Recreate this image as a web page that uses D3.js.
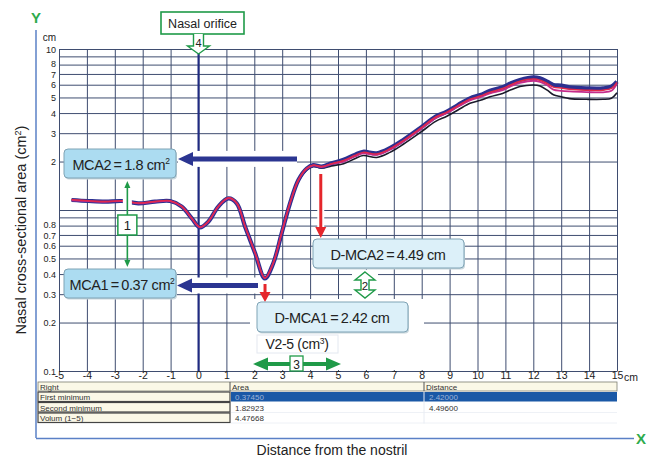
<!DOCTYPE html>
<html><head><meta charset="utf-8">
<script src="https://cdn.jsdelivr.net/npm/d3@7"></script>
<style>
html,body{margin:0;padding:0;background:#fff;}
svg{display:block;font-family:"Liberation Sans",Arial,sans-serif;}
</style></head>
<body><svg id="c" width="651" height="459"></svg>
<script>
// ---- data ----
const distance = [-4.55,-3.95,-3.35,-2.75,-2.16,-1.56,-1.02,-0.6,-0.24,0.05,0.35,0.71,1.07,1.37,1.67,2.03,2.38,2.68,2.98,3.28,3.58,3.88,4.11,4.41,4.77,5.2,5.6,5.9,6.39,6.86,7.34,7.94,8.5,8.9,9.3,9.73,10.1,10.45,10.9,11.2,11.52,12.0,12.24,12.5,12.72,13.0,13.3,13.9,14.5,14.8,15.0];
const areaNavy = [1.154,1.137,1.126,1.137,1.10,1.126,1.137,1.05,0.888,0.78,0.846,1.05,1.18,1.10,0.788,0.538,0.376,0.467,0.716,1.10,1.535,1.81,1.90,1.86,1.95,2.05,2.2,2.3,2.25,2.42,2.72,3.22,3.8,4.08,4.49,4.94,5.18,5.5,5.78,6.13,6.41,6.66,6.57,6.27,5.98,5.92,5.78,5.7,5.7,5.84,6.27];
const areaRed = [1.16,1.14,1.128,1.14,1.105,1.128,1.14,1.052,0.89,0.785,0.85,1.055,1.19,1.105,0.79,0.54,0.378,0.47,0.72,1.105,1.54,1.82,1.90,1.86,1.94,2.03,2.18,2.28,2.23,2.4,2.7,3.2,3.78,4.05,4.45,4.88,5.1,5.4,5.68,6.0,6.3,6.5,6.4,6.1,5.8,5.72,5.62,5.55,5.55,5.7,6.2];
const areaMagenta = [1.15,1.135,1.125,1.135,1.10,1.125,1.135,1.05,0.885,0.78,0.845,1.05,1.18,1.10,0.79,0.54,0.377,0.468,0.72,1.10,1.53,1.80,1.89,1.85,1.93,2.0,2.15,2.25,2.2,2.37,2.66,3.15,3.72,4.0,4.38,4.8,5.02,5.3,5.55,5.88,6.15,6.35,6.25,5.95,5.6,5.5,5.45,5.4,5.38,5.5,6.1];
const areaBlack = [1.15,1.135,1.12,1.13,1.095,1.12,1.13,1.045,0.88,0.775,0.84,1.045,1.17,1.09,0.78,0.535,0.375,0.465,0.71,1.09,1.51,1.77,1.86,1.82,1.88,1.94,2.08,2.18,2.12,2.28,2.56,3.02,3.55,3.82,4.18,4.6,4.8,5.05,5.3,5.58,5.85,5.98,5.9,5.55,5.2,5.05,4.92,4.87,4.87,4.95,5.35];
const xTicks = [-5,-4,-3,-2,-1,0,1,2,3,4,5,6,7,8,9,10,11,12,13,14,15];
const yGrid = [0.1,0.2,0.3,0.4,0.5,0.6,0.7,0.8,0.9,1,2,3,4,5,6,7,8,9,10];
const yLabels = [0.1,0.2,0.3,0.4,0.5,0.6,0.7,0.8,2,3,4,5,6,7,8,10];
const tableHeader = ["Right","Area","Distance"];
const tableRows = [["First minimum","0.37450","2.42000"],["Second minimum","1.82923","4.49600"],["Volum (1\u22125)","4.47668",""]];
const mca1 = 0.37, mca2 = 1.8, dmca1 = 2.42, dmca2 = 4.49;

// ---- setup ----
const svg = d3.select("#c");
const x = d3.scaleLinear().domain([-5,15]).range([59,617]);
const y = d3.scaleLog().domain([0.1,10]).range([371,49]);
const green = "#1f9a48", navy = "#2b3591", red = "#e5262b", gridC = "#3f4d70";
const narrow = "Liberation Sans Narrow, Liberation Sans, Arial";

// frame lines
svg.append("line").attr("x1",36).attr("x2",36).attr("y1",30).attr("y2",438).attr("stroke","#5a80c6").attr("stroke-width",1.5);
svg.append("line").attr("x1",36).attr("x2",634).attr("y1",438.5).attr("y2",438.5).attr("stroke","#5a80c6").attr("stroke-width",1.5);
svg.append("text").attr("x",36).attr("y",23).attr("text-anchor","middle").attr("font-weight","bold").attr("font-size",15).attr("fill","#2eab4c").text("Y");
svg.append("text").attr("x",641).attr("y",444).attr("text-anchor","middle").attr("font-weight","bold").attr("font-size",15).attr("fill","#2eab4c").text("X");

// grid + axes
const nudge = {8:-1.3, 7:0.6, 0.8:-1.1, 0.7:0.3};
const gy = svg.append("g").attr("transform","translate(59,0)")
  .call(d3.axisLeft(y).tickValues(yGrid).tickSizeInner(-558).tickSizeOuter(0).tickPadding(3)
    .tickFormat(d => yLabels.includes(d) ? String(d) : ""));
gy.select(".domain").remove();
gy.selectAll(".tick line").attr("stroke",gridC).attr("stroke-width",1);
gy.selectAll(".tick text").attr("font-size",9).attr("fill","#222").attr("font-family",narrow)
  .attr("dy", d => (3.0 + (nudge[d]||0)) + "px");
svg.append("text").attr("x",56).attr("y",41).attr("text-anchor","end").attr("font-size",10).attr("fill","#222").attr("font-family",narrow).text("cm");

const gx = svg.append("g").attr("transform","translate(0,371)")
  .call(d3.axisBottom(x).tickValues(xTicks).tickSizeInner(-322).tickSizeOuter(0).tickPadding(1)
    .tickFormat(d => String(d)));
gx.select(".domain").attr("stroke",gridC);
gx.selectAll(".tick line").attr("stroke",gridC).attr("stroke-width",1);
gx.selectAll(".tick text").attr("font-size",10.5).attr("fill","#222").attr("font-family",narrow);
svg.append("text").attr("x",624).attr("y",380.5).attr("font-size",10.5).attr("fill","#222").attr("font-family",narrow).text("cm");

// nasal orifice line
svg.append("line").attr("x1",x(0)).attr("x2",x(0)).attr("y1",53).attr("y2",371).attr("stroke","#1f2a82").attr("stroke-width",2);

// white areas
svg.append("rect").attr("x",250).attr("y",299).attr("width",174).attr("height",71).attr("fill","#fff");
svg.append("rect").attr("x",352).attr("y",270).attr("width",26).attr("height",30).attr("fill","#fff");

// curves
const line = (vals) => d3.line().x((d,i)=>x(distance[i])).y(d=>y(d)).curve(d3.curveCatmullRom)(vals);
const curves = [[areaBlack,"#1a1a2a",1.6],[areaNavy,"#2c3090",4.2],[areaMagenta,"#c42c8c",1.8],[areaRed,"#e0284a",1.5]];
curves.forEach(([v,c,w]) => svg.append("path").attr("d",line(v)).attr("fill","none").attr("stroke",c).attr("stroke-width",w).attr("stroke-linejoin","round"));
// gap at green arrow 1
svg.append("rect").attr("x",x(-2.55)-4.5).attr("y",193).attr("width",9).attr("height",16).attr("fill","#fff");

// helpers
function hArrowLeft(x1, x2, yy, color, w, hl, hw){
  svg.append("rect").attr("x",x2).attr("y",yy-8).attr("width",x1-x2).attr("height",16).attr("fill","#fff");
  svg.append("line").attr("x1",x1).attr("x2",x2+hl-1).attr("y1",yy).attr("y2",yy).attr("stroke",color).attr("stroke-width",w);
  svg.append("path").attr("d",`M${x2},${yy} L${x2+hl},${yy-hw/2} L${x2+hl},${yy+hw/2} Z`).attr("fill",color);
}
function vArrowDown(xx, y1, y2, color, w, hl, hw){
  svg.append("line").attr("x1",xx).attr("x2",xx).attr("y1",y1).attr("y2",y2-hl+1).attr("stroke","#fff").attr("stroke-width",w+4);
  svg.append("line").attr("x1",xx).attr("x2",xx).attr("y1",y1).attr("y2",y2-hl+1).attr("stroke",color).attr("stroke-width",w);
  svg.append("path").attr("d",`M${xx},${y2} L${xx-hw/2},${y2-hl} L${xx+hw/2},${y2-hl} Z`).attr("fill",color);
}
function box(x0,y0,w,h,fill,stroke){
  svg.append("rect").attr("x",x0+1).attr("y",y0+1.5).attr("width",w).attr("height",h).attr("rx",4).attr("fill","#c8d6dc");
  svg.append("rect").attr("x",x0).attr("y",y0).attr("width",w).attr("height",h).attr("rx",4).attr("fill",fill).attr("stroke",stroke).attr("stroke-width",1);
}
function boxText(cx, by, main, sup){
  const t = svg.append("text").attr("x",cx).attr("y",by).attr("text-anchor","middle").attr("font-size",14.5).attr("fill","#222").attr("letter-spacing",-0.4);
  t.append("tspan").text(main);
  if(sup) t.append("tspan").attr("dy",-6).attr("font-size",8.5).text(sup);
}

// navy arrows to MCA boxes
hArrowLeft(297, 178, y(mca2)-10, navy, 5, 15, 14);
hArrowLeft(258, 177, y(mca1)+6, navy, 5, 15, 14);

// red arrows
vArrowDown(x(dmca1)-1, 284, 302, red, 3, 10, 11);
vArrowDown(x(dmca2)-3, 174, 238, red, 3, 11, 11);

// boxes
box(64,149,112,29,"#acdcf1","#7fa3b5");
boxText(121,169.5,"MCA2\u2009=\u20091.8 cm","2");
box(64,269,112,29,"#acdcf1","#7fa3b5");
boxText(122,289.5,"MCA1\u2009=\u20090.37 cm","2");
box(313,239,151,29,"#dcf0f9","#7fa3b5");
boxText(388,259.5,"D-MCA2\u2009=\u20094.49 cm","");
box(257,302,151,30,"#dcf0f9","#7fa3b5");
boxText(332,322.5,"D-MCA1\u2009=\u20092.42 cm","");

// V2-5 label
svg.append("rect").attr("x",257).attr("y",335).attr("width",81).attr("height",18).attr("fill","#fff").attr("stroke","#e3e8f0");
const vt = svg.append("text").attr("x",297).attr("y",349).attr("text-anchor","middle").attr("font-size",14).attr("fill","#222").attr("letter-spacing",-0.3);
vt.append("tspan").text("V2-5 (cm");
vt.append("tspan").attr("dy",-5).attr("font-size",8.5).text("3");
vt.append("tspan").attr("dy",5).text(")");

// green arrow 1
const gx1 = x(-2.55);
svg.append("line").attr("x1",gx1).attr("x2",gx1).attr("y1",186).attr("y2",262).attr("stroke",green).attr("stroke-width",1.6);
svg.append("path").attr("d",`M${gx1},181 L${gx1-3},188 L${gx1+3},188 Z`).attr("fill",green);
svg.append("path").attr("d",`M${gx1},267 L${gx1-3},260 L${gx1+3},260 Z`).attr("fill",green);
svg.append("rect").attr("x",gx1-9.5).attr("y",215).attr("width",19).attr("height",20).attr("fill","#fff").attr("stroke",green).attr("stroke-width",1.5);
svg.append("text").attr("x",gx1).attr("y",230).attr("text-anchor","middle").attr("font-size",13).attr("fill","#222").text("1");

// green hollow arrow 2
const c2 = 365;
svg.append("path").attr("d",`M${c2},272 L${c2+10},280 L${c2+4},280 L${c2+4},290 L${c2+10},290 L${c2},298 L${c2-10},290 L${c2-4},290 L${c2-4},280 L${c2-10},280 Z`)
  .attr("fill","#fff").attr("stroke",green).attr("stroke-width",1.4);
svg.append("text").attr("x",c2).attr("y",289.5).attr("text-anchor","middle").attr("font-size",11.5).attr("fill","#222").text("2");

// green arrow 3
const y3 = 364;
svg.append("line").attr("x1",265).attr("x2",330).attr("y1",y3).attr("y2",y3).attr("stroke",green).attr("stroke-width",4);
svg.append("path").attr("d",`M253,${y3} L268,${y3-6.5} L268,${y3+6.5} Z`).attr("fill",green);
svg.append("path").attr("d",`M341,${y3} L326,${y3-6.5} L326,${y3+6.5} Z`).attr("fill",green);
svg.append("rect").attr("x",290).attr("y",356).attr("width",13).attr("height",15).attr("fill","#fff").attr("stroke",green).attr("stroke-width",1.3);
svg.append("text").attr("x",296.5).attr("y",368.5).attr("text-anchor","middle").attr("font-size",12).attr("fill","#222").text("3");

// nasal orifice box + arrow 4
svg.append("rect").attr("x",161).attr("y",12).attr("width",83).attr("height",22).attr("fill","#fff").attr("stroke",green).attr("stroke-width",1.6);
svg.append("text").attr("x",202.5).attr("y",28).attr("text-anchor","middle").attr("font-size",12.5).attr("fill","#222").text("Nasal orifice");
const c4 = x(0);
svg.append("path").attr("d",`M${c4-5},34 L${c4-5},46 L${c4-11},46 L${c4},54 L${c4+11},46 L${c4+5},46 L${c4+5},34`)
  .attr("fill","#fff").attr("stroke",green).attr("stroke-width",1.4);
svg.append("text").attr("x",c4).attr("y",47).attr("text-anchor","middle").attr("font-size",11).attr("fill","#222").text("4");

// table
const colX = [38,230,424,617];
const rowY = [382,392,402.5,413,423.5];
const tb = svg.append("g").attr("font-size",8).attr("font-family","Liberation Sans, Arial");
tb.append("rect").attr("x",38).attr("y",rowY[0]).attr("width",579).attr("height",rowY[1]-rowY[0]-1).attr("fill","#fbf8e7").attr("stroke","#7d7d70").attr("stroke-width",0.8);
[230,424].forEach(cx => tb.append("line").attr("x1",cx).attr("x2",cx).attr("y1",rowY[0]).attr("y2",rowY[1]-1).attr("stroke","#555").attr("stroke-width",1));
tableHeader.forEach((h,i)=> tb.append("text").attr("x",colX[i]+2).attr("y",rowY[0]+7.5).attr("fill","#333").text(h));
tableRows.forEach((r,j)=>{
  const y0 = rowY[j+1], hh = rowY[j+2]-rowY[j+1]-1;
  tb.append("rect").attr("x",38).attr("y",y0).attr("width",192).attr("height",hh).attr("fill","#fbf8e7").attr("stroke","#444").attr("stroke-width",1.2);
  tb.append("text").attr("x",40).attr("y",y0+8).attr("fill","#333").text(r[0]);
  if(j===0){
    tb.append("rect").attr("x",231).attr("y",y0).attr("width",386).attr("height",hh).attr("fill","#1a58a6");
  } else {
    tb.append("line").attr("x1",231).attr("x2",617).attr("y1",y0+hh+0.5).attr("y2",y0+hh+0.5).attr("stroke","#eef1f6");
  }
  const tc = j===0 ? "#9fb4d8" : "#333";
  tb.append("text").attr("x",235).attr("y",y0+8).attr("fill",tc).text(r[1]);
  tb.append("text").attr("x",429).attr("y",y0+8).attr("fill",tc).text(r[2]);
});
tb.append("line").attr("x1",424).attr("x2",424).attr("y1",rowY[1]).attr("y2",rowY[4]).attr("stroke","#e8ecf3");

// axis titles
svg.append("text").attr("x",332).attr("y",455).attr("text-anchor","middle").attr("font-size",14).attr("fill","#222").text("Distance from the nostril");
const yt = svg.append("text").attr("transform","translate(26,230) rotate(-90)").attr("text-anchor","middle").attr("font-size",14.5).attr("fill","#222");
yt.append("tspan").text("Nasal cross-sectional area (cm");
yt.append("tspan").attr("dy",-5).attr("font-size",9).text("2");
yt.append("tspan").attr("dy",5).text(")");
</script></body></html>
